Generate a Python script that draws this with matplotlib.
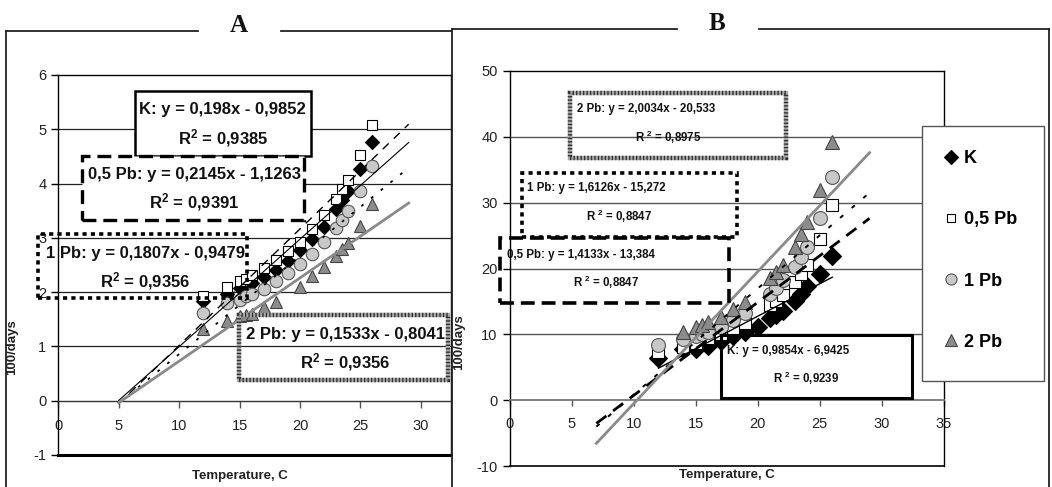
import numpy as np
import matplotlib
matplotlib.use("Agg")
import matplotlib.pyplot as plt
from matplotlib.patches import Rectangle
from matplotlib.lines import Line2D

plt.rcParams['font.family'] = ['Liberation Sans', 'DejaVu Sans']
plt.rcParams['mathtext.fontset'] = 'custom'
plt.rcParams['mathtext.rm'] = 'Liberation Sans'
plt.rcParams['mathtext.bf'] = 'Liberation Sans:bold'
plt.rcParams['mathtext.default'] = 'bf'
plt.rcParams['lines.scale_dashes'] = False
plt.rcParams['axes.unicode_minus'] = False

W, H = 1052, 487

series = ['K', '0,5 Pb', '1 Pb', '2 Pb']

# panel A  (temperature, 100/days)
a_k_t = [12, 14, 15, 16, 17, 18, 19, 20, 21, 22, 23, 23.5, 24, 25, 26]
a_k_v = [1.83, 1.97, 2.07, 2.16, 2.28, 2.41, 2.58, 2.77, 2.98, 3.2, 3.53, 3.7, 3.87, 4.27, 4.77]
a_05_t = [12, 14, 15, 15.5, 16, 17, 18, 19, 20, 21, 22, 23, 23.5, 24, 25, 26]
a_05_v = [1.92, 2.09, 2.2, 2.25, 2.32, 2.44, 2.6, 2.75, 2.93, 3.16, 3.43, 3.72, 3.9, 4.07, 4.53, 5.07]
a_1_t = [12, 14, 15, 15.5, 16, 17, 18, 19, 20, 21, 22, 23, 23.5, 24, 25, 26]
a_1_v = [1.62, 1.8, 1.86, 1.92, 1.97, 2.06, 2.2, 2.36, 2.51, 2.7, 2.92, 3.18, 3.33, 3.5, 3.86, 4.33]
a_2_t = [12, 14, 15, 15.5, 16, 17, 18, 20, 21, 22, 23, 23.5, 24, 25, 26]
a_2_v = [1.32, 1.47, 1.56, 1.58, 1.6, 1.72, 1.82, 2.1, 2.29, 2.47, 2.67, 2.79, 2.91, 3.22, 3.63]
a_slope = [0.198, 0.2145, 0.1807, 0.1533]
a_icpt = [-0.9852, -1.1263, -0.9479, -0.8041]
a_r2 = [0.9385, 0.9391, 0.9356, 0.9356]
a_xfit = [(5, 29), (5, 29), (5, 29), (5, 29)]

# panel B
b_k_t = [12, 14, 15, 16, 17, 18, 19, 20, 21, 21.5, 22, 23, 23.5, 24, 25, 26]
b_k_v = [6.5, 7.8, 7.8, 8.2, 9.0, 9.7, 10.3, 11.2, 12.5, 12.9, 13.5, 15.0, 16.2, 17.3, 19.1, 21.9]
b_05_t = [12, 14, 15, 16, 17, 18, 19, 21, 21.5, 22, 23, 23.5, 24, 25, 26]
b_05_v = [7.3, 8.1, 8.7, 9.4, 10.0, 10.9, 11.7, 14.4, 15.0, 16.0, 17.9, 19.2, 20.5, 24.4, 29.7]
b_1_t = [12, 14, 15, 15.5, 16, 17, 18, 19, 21, 21.5, 22, 23, 23.5, 24, 25, 26]
b_1_v = [8.4, 9.3, 9.8, 10.1, 10.4, 11.2, 12.2, 13.3, 16.2, 17.0, 18.2, 20.2, 21.8, 23.3, 27.6, 33.9]
b_2_t = [14, 15, 15.5, 16, 17, 18, 19, 21, 21.5, 22, 23, 23.5, 24, 25, 26]
b_2_v = [10.4, 11.2, 11.4, 11.9, 12.7, 13.9, 14.9, 18.5, 19.5, 20.5, 23.3, 25.3, 27.1, 31.9, 39.2]
b_slope = [0.9854, 1.4133, 1.6126, 2.0034]
b_icpt = [-6.9425, -13.384, -15.272, -20.533]
b_r2 = [0.9239, 0.8847, 0.8847, 0.8975]
b_xfit = [(12, 26), (7, 29), (7, 29), (7, 29)]

# marker styles per series
mstyle = [
    dict(marker='D', mfc='black', mec='black'),
    dict(marker='s', mfc='white', mec='black'),
    dict(marker='o', mfc='#c8c8c8', mec='#555555'),
    dict(marker='^', mfc='#8c8c8c', mec='#444444'),
]


def fx(x):
    return x / W


def fy(y):
    return 1 - y / H


def px_axes(l, t, r, b):
    return [fx(l), fy(b), (r - l) / W, (b - t) / H]


def num(v):
    return str(v).replace('.', ',')


def eq_text(name, s, c):
    return '%s: y = %sx - %s' % (name, num(s), num(abs(c)))


fig = plt.figure(figsize=(W / 100, H / 100), dpi=100)


def style_axes(ax, ticklen_x):
    ax.spines['bottom'].set_position(('data', 0))
    for s in ax.spines.values():
        s.set_color('black')
        s.set_linewidth(1.0)
    ax.tick_params(axis='x', direction='out', length=ticklen_x, width=1, pad=8,
                   labelsize=10.5, labelcolor='#222222', color='#555555')
    ax.tick_params(axis='y', direction='out', length=5, width=1, pad=3.5,
                   labelsize=10.5, labelcolor='#222222')


def add_box(l, t, r, b, st, fill=False):
    if st is None:
        # hatched grey border
        for ec, ls in [('#aaaaaa', '-'), ('#333333', (0, (1, 1.5)))]:
            fig.patches.append(Rectangle((fx(l), fy(b)), (r - l) / W, (b - t) / H,
                                         transform=fig.transFigure, fill=False,
                                         ec=ec, lw=3.2, ls=ls, zorder=5))
    else:
        fig.patches.append(Rectangle((fx(l), fy(b)), (r - l) / W, (b - t) / H,
                                     transform=fig.transFigure, fill=fill, fc='white',
                                     ec='black', lw=st['lw'], ls=st['ls'], zorder=5))


# ---------------- panel A ----------------
axA = fig.add_axes(px_axes(58.3, 75, 451, 455))
axA.set_xlim(0, 32.5)
axA.set_ylim(-1, 6)
axA.set_yticks(range(-1, 7))
axA.set_xticks(range(0, 31, 5))
for yv in range(1, 6):
    axA.axhline(yv, color='#222222', lw=0.9, zorder=1)
axA.axhline(-1, color='black', lw=2.2, zorder=1, clip_on=False)
style_axes(axA, 5)
axA.spines['bottom'].set_color('#333333')

a_t = [a_k_t, a_05_t, a_1_t, a_2_t]
a_v = [a_k_v, a_05_v, a_1_v, a_2_v]
a_ms = [7, 7.5, 9, 9]
for i in range(4):
    axA.plot(a_t[i], a_v[i], ls='none', ms=a_ms[i], mew=0.8, zorder=3, **mstyle[i])

a_ls = [dict(color='black', lw=0.8, ls='-'),
        dict(color='black', lw=1.0, ls=(0, (6, 5))),
        dict(color='black', lw=1.3, ls=(0, (2, 7))),
        dict(color='#8a8a8a', lw=2.0, ls='-')]
for i in range(4):
    xs = np.array(a_xfit[i], dtype=float)
    axA.plot(xs, a_slope[i] * xs + a_icpt[i], zorder=4, **a_ls[i])

axA.set_xlabel('Temperature, C', fontsize=9.5, fontweight='bold', color='#222222')
axA.xaxis.set_label_coords(0.463, -0.040)
axA.set_ylabel('100/days', fontsize=9.5, fontweight='bold', color='#222222')
axA.yaxis.set_label_coords(-0.103, 0.284)

# equation boxes A (pixel placement)
a_boxes = [(135, 90.7, 310.7, 156), (81.7, 155.7, 304, 220),
           (38.3, 234.3, 247.3, 298.3), (239.3, 315, 448.3, 380)]
a_box_style = [dict(ls='-', lw=1.8), dict(ls=(0, (10, 5)), lw=2.4),
               dict(ls=(0, (3, 3)), lw=2.6), None]
a_box_fill = [True, True, False, False]
a_eq_pos = [(222.7, 109.3), (194, 175), (145, 253.3), (345, 335)]
a_r2_pos = [(223, 137.7), (194.3, 201.7), (145, 281), (345, 361.7)]
for i in range(4):
    add_box(*a_boxes[i], a_box_style[i], a_box_fill[i])
    fig.text(fx(a_eq_pos[i][0]), fy(a_eq_pos[i][1]), eq_text(series[i], a_slope[i], a_icpt[i]),
             ha='center', va='center', fontsize=12, fontweight='bold', color='#111111', zorder=6)
    fig.text(fx(a_r2_pos[i][0]), fy(a_r2_pos[i][1]), 'R$^{2}$ = ' + num(a_r2[i]),
             ha='center', va='center', fontsize=12, fontweight='bold', color='#111111', zorder=6)

# ---------------- panel B ----------------
axB = fig.add_axes(px_axes(509.5, 70.7, 944, 466.3))
axB.set_xlim(0, 35)
axB.set_ylim(-10, 50)
axB.set_yticks(range(-10, 51, 10))
axB.set_xticks(range(0, 36, 5))
for yv in [10, 20, 30, 40]:
    axB.axhline(yv, color='#555555', lw=1.0, zorder=1)
axB.axhline(-10, color='black', lw=1.2, zorder=1, clip_on=False)
style_axes(axB, 4)
axB.spines['bottom'].set_color('#777777')
axB.spines['bottom'].set_linewidth(1.3)

b_t = [b_k_t, b_05_t, b_1_t, b_2_t]
b_v = [b_k_v, b_05_v, b_1_v, b_2_v]
b_ms = [9, 8, 10, 10]
handles = []
for i in range(4):
    h, = axB.plot(b_t[i], b_v[i], ls='none', ms=b_ms[i], mew=0.8, zorder=3, **mstyle[i])
    handles.append(h)

b_ls = [dict(color='black', lw=1.0, ls='-'),
        dict(color='black', lw=2.0, ls=(0, (9, 6))),
        dict(color='black', lw=1.4, ls=(0, (3, 8))),
        dict(color='#8a8a8a', lw=2.0, ls='-')]
for i in range(4):
    xs = np.array(b_xfit[i], dtype=float)
    axB.plot(xs, b_slope[i] * xs + b_icpt[i], zorder=4, clip_on=False, **b_ls[i])

axB.set_xlabel('Temperature, C', fontsize=9.5, fontweight='bold', color='#222222')
axB.xaxis.set_label_coords(0.5, -0.008)
axB.set_ylabel('100/days', fontsize=9.5, fontweight='bold', color='#222222')
axB.yaxis.set_label_coords(-0.102, 0.314)

b_boxes = [(720.7, 335, 911.7, 398.3), (500, 237.7, 729.3, 302.7),
           (521.7, 172.7, 736.7, 237.3), (570, 92.7, 785.7, 158.3)]
b_box_style = [dict(ls='-', lw=2.2), dict(ls=(0, (10, 5)), lw=2.6),
               dict(ls=(0, (3, 3)), lw=2.6), None]
b_eq_pos = [(726.7, 350.7), (507, 255), (527, 188), (576.7, 109)]
b_r2_pos = [(806, 378.3), (606, 282), (619, 216), (668, 137)]
for i in range(4):
    add_box(*b_boxes[i], b_box_style[i], False)
    fig.text(fx(b_eq_pos[i][0]), fy(b_eq_pos[i][1]), eq_text(series[i], b_slope[i], b_icpt[i]),
             ha='left', va='center', fontsize=8.3, fontweight='bold', color='#111111', zorder=6)
    fig.text(fx(b_r2_pos[i][0]), fy(b_r2_pos[i][1]), 'R $^{2}$ = ' + num(b_r2[i]),
             ha='center', va='center', fontsize=8.3, fontweight='bold', color='#111111', zorder=6)

# legend B
fig.patches.append(Rectangle((fx(921.7), fy(380.7)), (1044 - 921.7) / W, (380.7 - 125.7) / H,
                             transform=fig.transFigure, fc='white', ec='#555555', lw=1.0, zorder=7))
leg = fig.legend(handles, series, loc='upper left', bbox_to_anchor=(fx(936), fy(141)),
                 frameon=False, prop={'weight': 'bold', 'size': 13}, labelspacing=2.45,
                 handlelength=0.7, handletextpad=0.35, markerscale=0.8, borderpad=0)
leg.set_zorder(8)


# panel frames and titles
def fline(x0, y0, x1, y1):
    fig.add_artist(Line2D([fx(x0), fx(x1)], [fy(y0), fy(y1)], transform=fig.transFigure,
                          color='#222222', lw=1.3))


fline(6, 31, 198, 31)
fline(281, 31, 451, 31)
fline(6, 31, 6, 487)
fline(451.7, 29.3, 677, 29.3)
fline(759, 29.3, 1049, 29.3)
fline(451.7, 29.3, 451.7, 487)
fline(1049, 29.3, 1049, 487)

fig.text(fx(239), fy(26), 'A', ha='center', va='center', fontsize=18, fontweight='bold',
         family='Liberation Serif', color='#111111')
fig.text(fx(717), fy(24), 'B', ha='center', va='center', fontsize=18, fontweight='bold',
         family='Liberation Serif', color='#111111')

fig.savefig('out.png', dpi=100)
